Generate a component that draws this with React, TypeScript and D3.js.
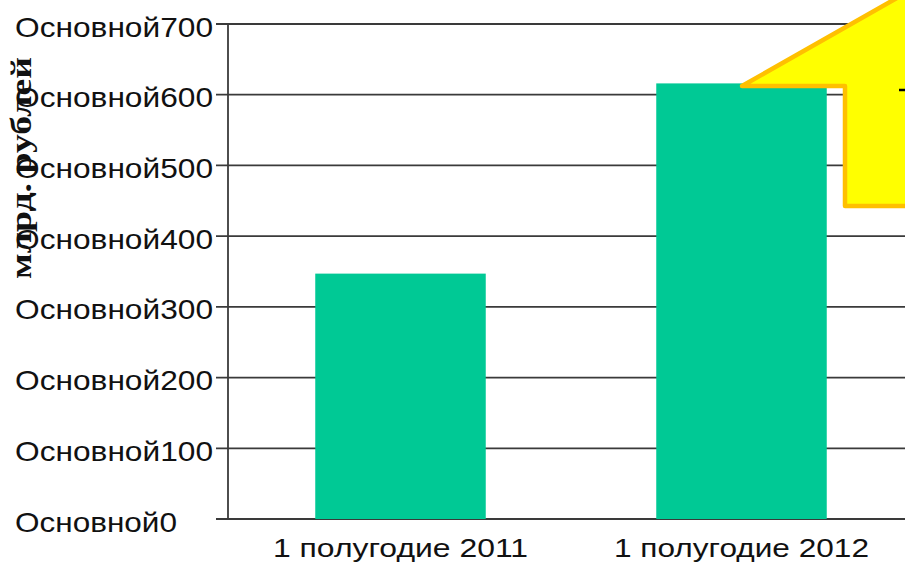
import React from "react";
import * as d3 from "d3";

const categories = ["1 полугодие 2011", "1 полугодие 2012"];
const values = [347, 616];
const yTicks = [0, 100, 200, 300, 400, 500, 600, 700];
const tickPrefix = "Основной";
const yTitle = "млрд. рублей";

const W = 905;
const H = 569;

export default function App() {
  const x = d3
    .scaleBand<string>()
    .domain(categories)
    .range([230, 912])
    .paddingInner(0.5)
    .paddingOuter(0.25);
  const y = d3.scaleLinear().domain([0, 700]).range([519, 24]);
  const axisX = 228;

  const arrow = [
    [742, 86],
    [911, -10],
    [930, -10],
    [930, 206],
    [845, 206],
    [845, 86],
  ];
  const arrowPath = d3.line()(arrow as [number, number][]) + "Z";

  return (
    <svg
      width={W}
      height={H}
      style={{ position: "absolute", left: 0, top: 0, background: "#fff" }}
    >
      {yTicks.map((t) => (
        <line
          key={"g" + t}
          x1={216}
          x2={W}
          y1={y(t)}
          y2={y(t)}
          stroke="#3a3a3a"
          strokeWidth={1.8}
        />
      ))}
      <line x1={axisX} x2={axisX} y1={y(700)} y2={y(0)} stroke="#3a3a3a" strokeWidth={1.8} />
      {categories.map((c, i) => (
        <rect
          key={c}
          x={x(c)}
          y={y(values[i])}
          width={x.bandwidth()}
          height={y(0) - y(values[i])}
          fill="#00C995"
        />
      ))}
      {yTicks.map((t) => {
        const label = tickPrefix + t;
        const len = t === 0 ? 162 : 198;
        return (
          <text
            key={"t" + t}
            x={15}
            y={y(t) + 12.5}
            fontFamily="Liberation Sans, Arial, sans-serif"
            fontSize={28}
            fill="#111"
            textLength={len}
            lengthAdjust="spacingAndGlyphs"
          >
            {label}
          </text>
        );
      })}
      {categories.map((c) => (
        <text
          key={"c" + c}
          x={(x(c) as number) + x.bandwidth() / 2}
          y={557}
          textAnchor="middle"
          fontFamily="Liberation Sans, Arial, sans-serif"
          fontSize={26}
          fill="#111"
          textLength={255}
          lengthAdjust="spacingAndGlyphs"
        >
          {c}
        </text>
      ))}
      <text
        transform={`translate(31,${168}) rotate(-90)`}
        textAnchor="middle"
        fontFamily="Liberation Serif, Times New Roman, serif"
        fontWeight="bold"
        fontSize={29}
        fill="#111"
        textLength={222}
        lengthAdjust="spacingAndGlyphs"
      >
        {yTitle}
      </text>
      <path
        d={arrowPath}
        fill="#FFFF00"
        stroke="#FFC000"
        strokeWidth={4.5}
        strokeLinejoin="round"
      />
      <line x1={899} x2={910} y1={90} y2={90} stroke="#000" strokeWidth={2.5} />
    </svg>
  );
}
